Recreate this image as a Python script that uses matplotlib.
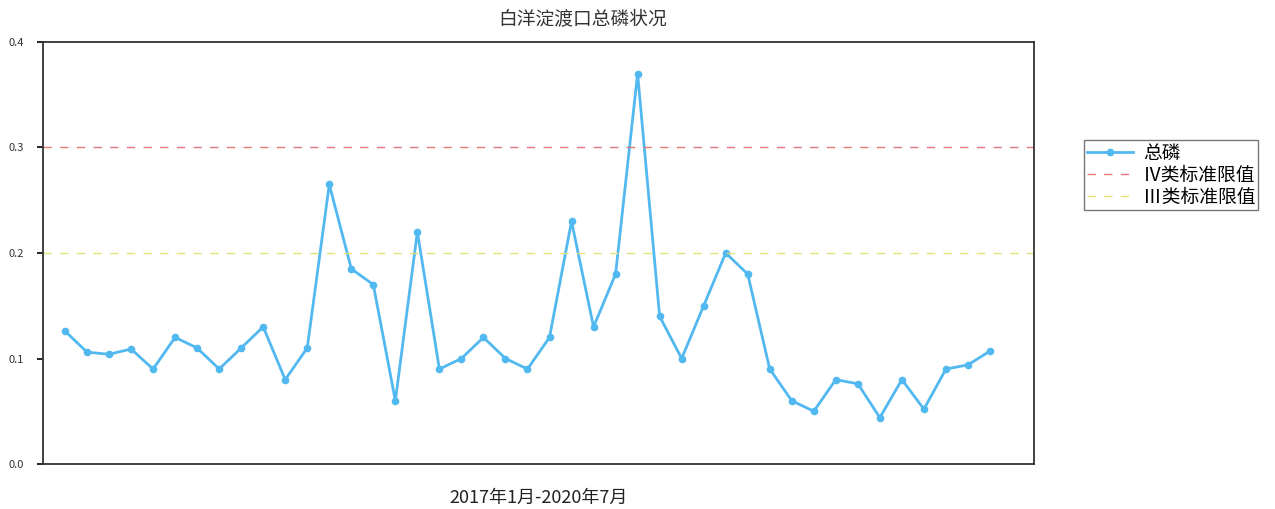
import numpy as np
import matplotlib
matplotlib.use('Agg')
import matplotlib.pyplot as plt

plt.rcParams['font.family'] = ['Noto Sans CJK SC', 'DejaVu Sans']

# 总磷 月度数据 2017年1月-2020年7月
tp = [0.126, 0.106, 0.104, 0.109, 0.090, 0.120, 0.110, 0.090, 0.110, 0.130,
      0.080, 0.110, 0.265, 0.185, 0.170, 0.060, 0.220, 0.090, 0.100, 0.120,
      0.100, 0.090, 0.120, 0.230, 0.130, 0.180, 0.370, 0.140, 0.100, 0.150,
      0.200, 0.180, 0.090, 0.060, 0.050, 0.080, 0.076, 0.044, 0.080, 0.052,
      0.090, 0.094, 0.107]
std_iv = 0.3
std_iii = 0.2
yticks = [0.0, 0.1, 0.2, 0.3, 0.4]

x = np.arange(len(tp))

fig = plt.figure(figsize=(12.75, 5.09), dpi=100)
ax = fig.add_axes([0.0337, 0.0884, 0.7773, 0.8291])

ax.plot(x, tp, color='#52b8f0', lw=2, marker='o', ms=4.5, label='总磷')
ax.axhline(std_iv, color='#e07a7a', lw=1, ls=(0, (6, 6)), label='Ⅳ类标准限值')
ax.axhline(std_iii, color='#e2e27a', lw=1, ls=(0, (6, 6)), label='Ⅲ类标准限值')

ax.set_xlim(-1, 44)
ax.set_ylim(0, 0.4)
ax.set_xticks([])
ax.set_yticks(yticks)
ax.set_yticklabels(['%.1f' % v for v in yticks], fontsize=8, color='#333333')
ax.tick_params(axis='y', length=4, width=1.2, pad=10)
for s in ax.spines.values():
    s.set_linewidth(1.3)
    s.set_color('#333333')

ax.set_xlabel('2017年1月-2020年7月', fontsize=13, color='#222222', labelpad=18)
fig.text(0.457, 0.962, '白洋淀渡口总磷状况', fontsize=13.5, color='#333333',
         ha='center', va='center')

ax.legend(loc='upper left', bbox_to_anchor=(0.850, 0.725), bbox_transform=fig.transFigure,
          fontsize=13.5, frameon=True, fancybox=False, edgecolor='#555555',
          borderaxespad=0, borderpad=0.15, labelspacing=0.05,
          handlelength=2.5, handletextpad=0.5)

fig.savefig('out.png', dpi=100)
